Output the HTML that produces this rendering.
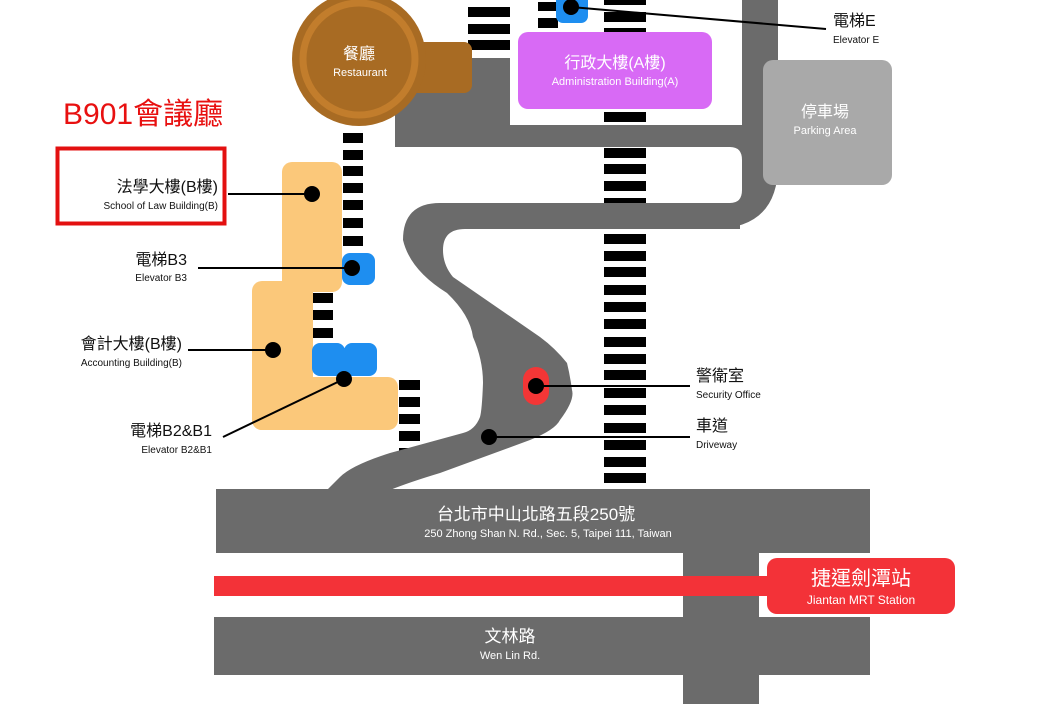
<!DOCTYPE html>
<html><head><meta charset="utf-8"><style>
html,body{margin:0;padding:0;background:#fff;}
svg{display:block;}
text{font-family:"Liberation Sans","Noto Sans CJK TC",sans-serif;}
</style></head><body>
<svg width="1048" height="704" viewBox="0 0 1048 704" xmlns="http://www.w3.org/2000/svg">
<g fill="#000">
  <!-- center column bars -->
  <rect x="604" y="-5" width="42" height="10"/>
  <rect x="604" y="12" width="42" height="10"/>
  <rect x="604" y="28" width="42" height="10"/>
  <rect x="604" y="112" width="42" height="10"/>
  <rect x="604" y="148" width="42" height="10"/>
  <rect x="604" y="164" width="42" height="10"/>
  <rect x="604" y="181" width="42" height="10"/>
  <rect x="604" y="198" width="42" height="10"/>
  <rect x="604" y="234" width="42" height="10"/>
  <rect x="604" y="251" width="42" height="10"/>
  <rect x="604" y="267" width="42" height="10"/>
  <rect x="604" y="285" width="42" height="10"/>
  <rect x="604" y="302" width="42" height="10"/>
  <rect x="604" y="319" width="42" height="10"/>
  <rect x="604" y="337" width="42" height="10"/>
  <rect x="604" y="354" width="42" height="10"/>
  <rect x="604" y="370" width="42" height="10"/>
  <rect x="604" y="388" width="42" height="10"/>
  <rect x="604" y="405" width="42" height="10"/>
  <rect x="604" y="423" width="42" height="10"/>
  <rect x="604" y="440" width="42" height="10"/>
  <rect x="604" y="457" width="42" height="10"/>
  <rect x="604" y="473" width="42" height="10"/>
  <!-- top stairs near restaurant -->
  <rect x="468" y="7" width="42" height="10"/>
  <rect x="468" y="24" width="42" height="10"/>
  <rect x="468" y="40" width="42" height="10"/>
  <!-- elevator E stairs -->
  <rect x="538" y="2" width="20" height="9"/>
  <rect x="538" y="18" width="20" height="10"/>
  <!-- left column -->
  <rect x="343" y="133" width="20" height="10"/>
  <rect x="343" y="150" width="20" height="10"/>
  <rect x="343" y="166" width="20" height="10"/>
  <rect x="343" y="183" width="20" height="10"/>
  <rect x="343" y="200" width="20" height="10"/>
  <rect x="343" y="218" width="20" height="10"/>
  <rect x="343" y="236" width="20" height="10"/>
  <!-- B3 stairs -->
  <rect x="313" y="293" width="20" height="10"/>
  <rect x="313" y="310" width="20" height="10"/>
  <rect x="313" y="328" width="20" height="10"/>
  <!-- right of accounting -->
  <rect x="399" y="380" width="21" height="10"/>
  <rect x="399" y="397" width="21" height="10"/>
  <rect x="399" y="414" width="21" height="10"/>
  <rect x="399" y="431" width="21" height="10"/>
  <rect x="399" y="448" width="21" height="10"/>
</g>
<!-- roads -->
<g fill="#6b6b6b">
  <path d="M395 58 H510 V125 H742 V0 H778 V165 Q778 229 712 229 H460 V203 H730 Q742 203 742 190 V160 Q742 147 730 147 H395 Z"/>
  <path d="M740 203 H440 Q403 203 403 240 Q410 270 447 293 Q470 315 473 337 Q483 360 483 383 Q482 410 480 417 Q475 430 463 433 L390 453 Q352 465 340 477 L327 490 L390 490 Q410 482 440 473 L530 440 Q555 430 560 420 Q575 400 572 390 Q570 375 567 363 Q555 348 540 337 L453 277 Q443 265 443 250 Q443 229 465 229 H740 Z"/>
  <rect x="216" y="489" width="654" height="64"/>
  <rect x="683" y="553" width="76" height="151"/>
  <rect x="214" y="617" width="656" height="58"/>
</g>
<!-- restaurant -->
<rect x="410" y="42" width="62" height="51" rx="8" fill="#a86b23"/>
<circle cx="359" cy="59" r="67" fill="#a86b23"/>
<circle cx="359" cy="59" r="56" fill="none" stroke="#c27d2c" stroke-width="7"/>
<text x="359" y="59" font-size="16" fill="#fff" text-anchor="middle">餐廳</text>
<text x="360" y="76" font-size="11" fill="#fff" text-anchor="middle">Restaurant</text>
<!-- admin -->
<rect x="518" y="32" width="194" height="77" rx="10" fill="#d86af5"/>
<text x="615" y="68" font-size="16" fill="#fff" text-anchor="middle">行政大樓(A樓)</text>
<text x="615" y="85" font-size="11" fill="#fff" text-anchor="middle">Administration Building(A)</text>
<!-- parking -->
<rect x="763" y="60" width="129" height="125" rx="10" fill="#a9a9a9"/>
<text x="825" y="117" font-size="16" fill="#fff" text-anchor="middle">停車場</text>
<text x="825" y="134" font-size="11" fill="#fff" text-anchor="middle">Parking Area</text>
<!-- orange buildings -->
<g fill="#fbc87a">
  <rect x="282" y="162" width="60" height="130" rx="10"/>
  <rect x="252" y="281" width="61" height="149" rx="10"/>
  <rect x="252" y="377" width="146" height="53" rx="10"/>
</g>
<!-- elevators -->
<g fill="#1e8ef0">
  <rect x="556" y="-8" width="32" height="31" rx="7"/>
  <rect x="342" y="253" width="33" height="32" rx="8"/>
  <rect x="312" y="343" width="33" height="33" rx="8"/>
  <rect x="344" y="343" width="33" height="33" rx="8"/>
</g>
<rect x="523" y="367" width="26" height="38" rx="13" fill="#f33636"/>
<!-- MRT -->
<rect x="214" y="576" width="560" height="20" fill="#f33238"/>
<rect x="767" y="558" width="188" height="56" rx="10" fill="#f33238"/>
<text x="861" y="585" font-size="20" fill="#fff" text-anchor="middle">捷運劍潭站</text>
<text x="861" y="604" font-size="12" fill="#fff" text-anchor="middle">Jiantan MRT Station</text>
<!-- road labels -->
<text x="536" y="520" font-size="17" fill="#fff" text-anchor="middle">台北市中山北路五段250號</text>
<text x="548" y="537" font-size="11" fill="#fff" text-anchor="middle">250 Zhong Shan N. Rd., Sec. 5, Taipei 111, Taiwan</text>
<text x="510" y="642" font-size="17" fill="#fff" text-anchor="middle">文林路</text>
<text x="510" y="659" font-size="11" fill="#fff" text-anchor="middle">Wen Lin Rd.</text>
<!-- leader lines -->
<g stroke="#000" stroke-width="2">
  <line x1="228" y1="194" x2="312" y2="194"/>
  <line x1="198" y1="268" x2="352" y2="268"/>
  <line x1="188" y1="350" x2="273" y2="350"/>
  <line x1="223" y1="437" x2="344" y2="379"/>
  <line x1="536" y1="386" x2="690" y2="386"/>
  <line x1="489" y1="437" x2="690" y2="437"/>
  <line x1="571" y1="7" x2="826" y2="29"/>
</g>
<g fill="#000">
  <circle cx="312" cy="194" r="8"/>
  <circle cx="352" cy="268" r="8"/>
  <circle cx="273" cy="350" r="8"/>
  <circle cx="344" cy="379" r="8"/>
  <circle cx="536" cy="386" r="8"/>
  <circle cx="489" cy="437" r="8"/>
  <circle cx="571" cy="7" r="8"/>
</g>
<!-- labels -->
<text x="63" y="124" font-size="30" fill="#e81010">B901會議廳</text>
<rect x="57.5" y="148.5" width="167" height="75" fill="none" stroke="#e31010" stroke-width="4"/>
<g fill="#111">
  <text x="218" y="192" font-size="16" text-anchor="end">法學大樓(B樓)</text>
  <text x="218" y="209" font-size="10" text-anchor="end">School of Law Building(B)</text>
  <text x="187" y="265" font-size="16" text-anchor="end">電梯B3</text>
  <text x="187" y="281" font-size="10" text-anchor="end">Elevator B3</text>
  <text x="182" y="349" font-size="16" text-anchor="end">會計大樓(B樓)</text>
  <text x="182" y="366" font-size="10" text-anchor="end">Accounting Building(B)</text>
  <text x="212" y="436" font-size="16" text-anchor="end">電梯B2&amp;B1</text>
  <text x="212" y="453" font-size="10" text-anchor="end">Elevator B2&amp;B1</text>
  <text x="696" y="381" font-size="16">警衛室</text>
  <text x="696" y="398" font-size="10">Security Office</text>
  <text x="696" y="431" font-size="16">車道</text>
  <text x="696" y="448" font-size="10">Driveway</text>
  <text x="833" y="26" font-size="16">電梯E</text>
  <text x="833" y="43" font-size="10">Elevator E</text>
</g>
</svg>
</body></html>
